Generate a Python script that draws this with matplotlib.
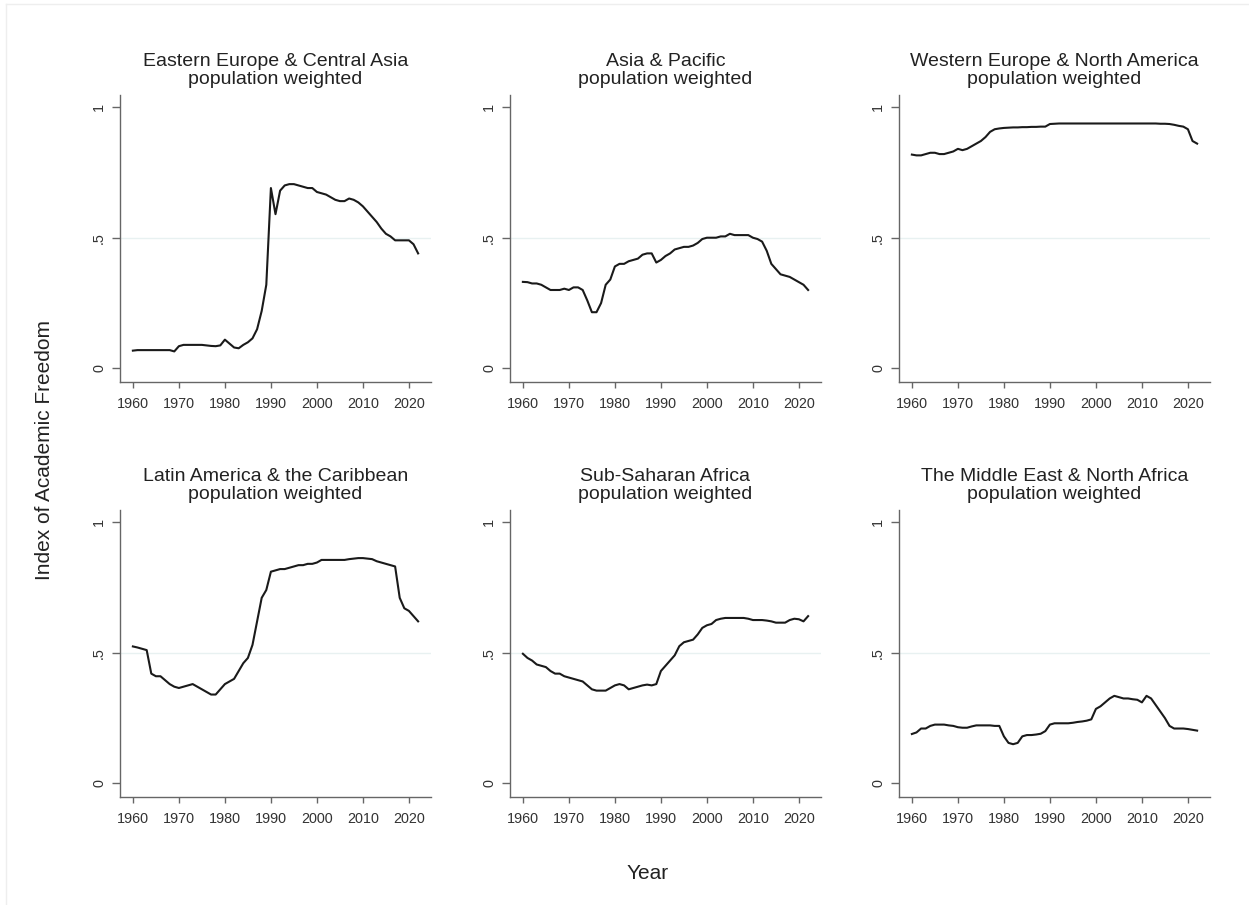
import matplotlib
matplotlib.use("Agg")
import matplotlib.pyplot as plt
from matplotlib.lines import Line2D

plt.rcParams['font.family'] = ['Liberation Sans', 'DejaVu Sans']

years = list(range(1960, 2023))

eeca = [0.068, 0.07, 0.07, 0.07, 0.07, 0.07, 0.07, 0.07, 0.07, 0.065,
        0.085, 0.09, 0.09, 0.09, 0.09, 0.09, 0.088, 0.086, 0.085, 0.088,
        0.11, 0.095, 0.08, 0.077, 0.09, 0.10, 0.115, 0.15, 0.22, 0.32,
        0.69, 0.59, 0.68, 0.70, 0.705, 0.705, 0.70, 0.695, 0.69, 0.69,
        0.675, 0.67, 0.665, 0.655, 0.645, 0.64, 0.64, 0.65, 0.645, 0.635,
        0.62, 0.60, 0.58, 0.56, 0.535, 0.515, 0.505, 0.49, 0.49, 0.49,
        0.49, 0.475, 0.44]

asia = [0.331, 0.33, 0.325, 0.325, 0.32, 0.31, 0.30, 0.30, 0.30, 0.305,
        0.30, 0.31, 0.31, 0.30, 0.26, 0.215, 0.215, 0.25, 0.32, 0.34,
        0.39, 0.40, 0.40, 0.41, 0.415, 0.42, 0.435, 0.44, 0.44, 0.405,
        0.415, 0.43, 0.44, 0.455, 0.46, 0.465, 0.465, 0.47, 0.48, 0.495,
        0.50, 0.50, 0.50, 0.505, 0.505, 0.515, 0.51, 0.51, 0.51, 0.51,
        0.50, 0.495, 0.485, 0.45, 0.40, 0.38, 0.36, 0.355, 0.35, 0.34,
        0.33, 0.32, 0.30]

weur = [0.818, 0.815, 0.815, 0.82, 0.825, 0.825, 0.82, 0.82, 0.825, 0.83,
        0.84, 0.835, 0.84, 0.85, 0.86, 0.87, 0.885, 0.905, 0.915, 0.918,
        0.92, 0.921, 0.922, 0.922, 0.923, 0.923, 0.924, 0.924, 0.925, 0.925,
        0.935, 0.936, 0.937, 0.937, 0.937, 0.937, 0.937, 0.937, 0.937, 0.937,
        0.937, 0.937, 0.937, 0.937, 0.937, 0.937, 0.937, 0.937, 0.937, 0.937,
        0.937, 0.937, 0.937, 0.937, 0.936, 0.936, 0.935, 0.932, 0.928, 0.925,
        0.915, 0.87, 0.86]

latam = [0.524, 0.52, 0.515, 0.51, 0.42, 0.41, 0.41, 0.395, 0.38, 0.37,
         0.365, 0.37, 0.375, 0.38, 0.37, 0.36, 0.35, 0.34, 0.34, 0.36,
         0.38, 0.39, 0.40, 0.43, 0.46, 0.48, 0.53, 0.62, 0.71, 0.74,
         0.81, 0.815, 0.82, 0.82, 0.825, 0.83, 0.835, 0.835, 0.84, 0.84,
         0.845, 0.855, 0.855, 0.855, 0.855, 0.855, 0.855, 0.858, 0.86, 0.862,
         0.862, 0.86, 0.858, 0.85, 0.845, 0.84, 0.835, 0.83, 0.71, 0.67,
         0.66, 0.64, 0.62]

ssa = [0.496, 0.48, 0.47, 0.455, 0.45, 0.445, 0.43, 0.42, 0.42, 0.41,
       0.405, 0.40, 0.395, 0.39, 0.375, 0.36, 0.355, 0.355, 0.355, 0.365,
       0.375, 0.38, 0.375, 0.36, 0.365, 0.37, 0.375, 0.378, 0.375, 0.38,
       0.43, 0.45, 0.47, 0.49, 0.525, 0.54, 0.545, 0.55, 0.57, 0.595,
       0.605, 0.61, 0.625, 0.63, 0.633, 0.633, 0.633, 0.633, 0.633, 0.63,
       0.625, 0.625, 0.625, 0.623, 0.62, 0.615, 0.615, 0.615, 0.625, 0.63,
       0.628, 0.62, 0.64]

mena = [0.189, 0.195, 0.21, 0.21, 0.22, 0.225, 0.225, 0.225, 0.222, 0.22,
        0.215, 0.213, 0.213, 0.218, 0.222, 0.222, 0.222, 0.222, 0.22, 0.22,
        0.18, 0.155, 0.15, 0.155, 0.18, 0.185, 0.185, 0.187, 0.19, 0.20,
        0.225, 0.23, 0.23, 0.23, 0.23, 0.232, 0.235, 0.237, 0.24, 0.245,
        0.285, 0.295, 0.31, 0.325, 0.335, 0.33, 0.325, 0.325, 0.322, 0.32,
        0.31, 0.335, 0.325, 0.30, 0.275, 0.25, 0.22, 0.21, 0.21, 0.21,
        0.208, 0.205, 0.202]

regions = ["Eastern Europe & Central Asia", "Asia & Pacific",
           "Western Europe & North America", "Latin America & the Caribbean",
           "Sub-Saharan Africa", "The Middle East & North Africa"]
series = [eeca, asia, weur, latam, ssa, mena]

xticks = [1960, 1970, 1980, 1990, 2000, 2010, 2020]
yticks = [0, 0.5, 1]
ylabels = ["0", ".5", "1"]

W, H = 1249, 905
fig = plt.figure(figsize=(W / 100, H / 100), dpi=100)

# pixel boxes: left, top of each panel
lefts = [120, 510, 899]
tops = [95, 510]
pw, ph = 311, 287

for i, (name, vals) in enumerate(zip(regions, series)):
    r, c = divmod(i, 3)
    ax = fig.add_axes([lefts[c] / W, (H - tops[r] - ph) / H, pw / W, ph / H])
    ax.axhline(0.5, color="#e8f1f1", lw=1.0, zorder=0)
    ax.plot(years, vals, color="#1a1a1a", lw=1.5)
    ax.set_xlim(1957.2, 2024.8)
    ax.set_ylim(-0.052, 1.046)
    ax.set_xticks(xticks)
    ax.set_yticks(yticks)
    ax.set_yticklabels(ylabels, rotation=90, va="center")
    for s in ["top", "right"]:
        ax.spines[s].set_visible(False)
    for s in ["left", "bottom"]:
        ax.spines[s].set_color("#666666")
        ax.spines[s].set_linewidth(1.0)
    ax.tick_params(axis="both", colors="#666666", labelcolor="#333333",
                   labelsize=10.4, width=1.0)
    ax.tick_params(axis="x", length=4.5, pad=6)
    ax.tick_params(axis="y", length=6, pad=4)
    ax.set_title(name + "\npopulation weighted", fontsize=14, color="#222222",
                 linespacing=1.05, pad=8)

fig.text(45 / W, 1 - 450 / H, "Index of Academic Freedom", rotation=90,
         ha="center", va="center", fontsize=15, color="#222222")
fig.text(648 / W, 1 - 873 / H, "Year", ha="center", va="center",
         fontsize=15, color="#222222")

# faint outer frame
fig.add_artist(Line2D([6 / W, 1], [1 - 4 / H, 1 - 4 / H], color="#eeeeee", lw=1))
fig.add_artist(Line2D([6 / W, 6 / W], [0, 1 - 4 / H], color="#eeeeee", lw=1))

fig.savefig("out.png", dpi=100)
